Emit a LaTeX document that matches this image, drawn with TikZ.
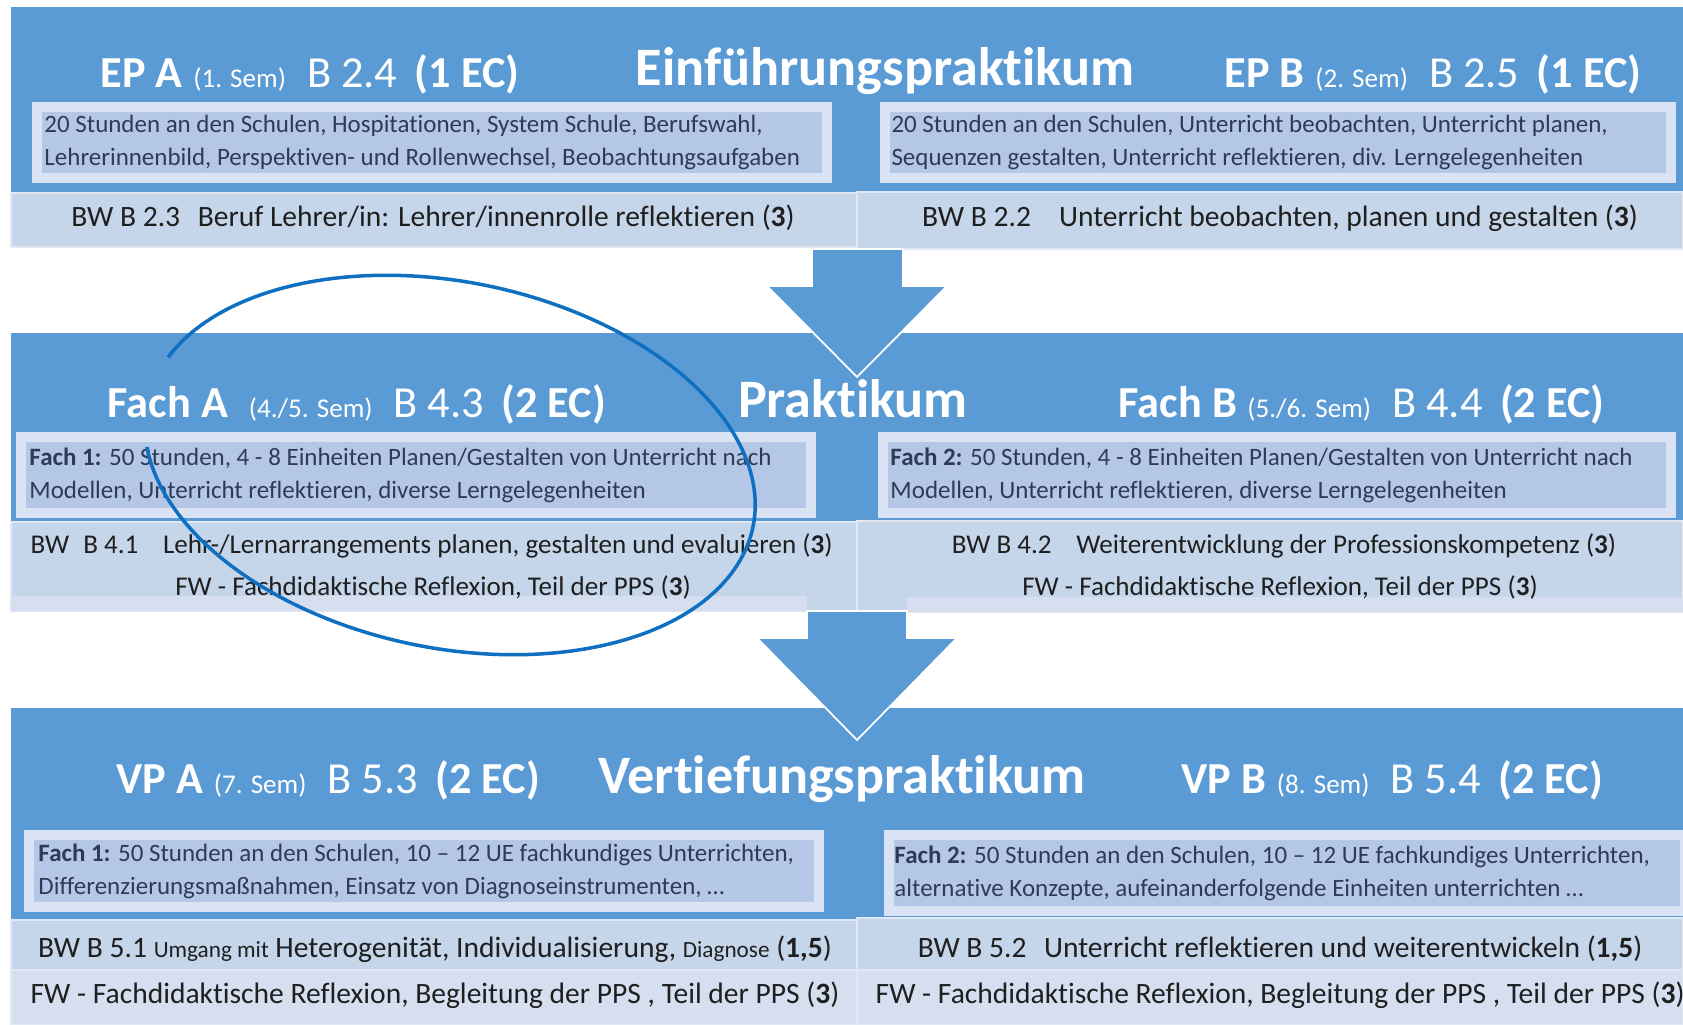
\documentclass[tikz,border=0pt]{standalone}
\usepackage{fontspec}
\setmainfont{Carlito}[Ligatures={TeX,NoCommon}]
\usepackage{tikz}
\usetikzlibrary{positioning}

\definecolor{bandblue}{HTML}{5B9BD5}
\definecolor{stripblue}{HTML}{C5D5EA}
\definecolor{stripfw}{HTML}{D5DFF0}
\definecolor{boxframe}{HTML}{DAE3F3}
\definecolor{boxfill}{HTML}{B4C7E7}
\definecolor{boxtext}{HTML}{2E3B56}
\definecolor{ringblue}{HTML}{0F6FC1}

\newcommand{\semtitle}[4]{\textbf{#1}\hspace{3pt}{\fontsize{7.7}{9}\selectfont(#2)}\hspace{6pt}#3\hspace{5pt}\textbf{(#4)}}
\newcommand{\pts}[1]{(\textbf{#1})}
\newcommand{\smallword}[1]{{\fontsize{6.6}{8}\selectfont #1}}

\begin{document}
\begin{tikzpicture}[
    x = .01cm,
    y = -.01cm,
    font = \fontsize{8.4}{10}\selectfont,
    band/.style = {fill=bandblue},
    bwrow/.style = {fill=stripblue, draw=white!45!stripblue, line width=.4pt},
    fwrow/.style = {fill=stripfw},
    fachbox/.style = {
      rectangle,
      draw=boxframe,
      fill=boxfill,
      line width=1mm,
      inner sep=0pt
    },
    fachtext/.style = {
      text=boxtext,
      font=\fontsize{7.1}{9.4}\selectfont,
      align=left,
      inner sep=0pt
    },
    bwtext/.style = {text=black!88, inner sep=0pt, anchor=base},
    phase/.style = {
      text=white,
      font=\bfseries\fontsize{15.4}{18}\selectfont,
      inner sep=0pt,
      anchor=base
    },
    semester/.style = {
      text=white,
      font=\fontsize{12.6}{15}\selectfont,
      inner sep=0pt,
      anchor=base west
    },
    downarrow/.style = {fill=bandblue, draw=white, line width=.5pt, line join=miter},
    ring/.style = {draw=ringblue, line width=1pt}
  ]
    \useasboundingbox (0,0) rectangle (1683,1025);

    % Einfuehrungspraktikum
    \fill[band] (11,7) rectangle (1683,193);
    \filldraw[bwrow] (11,193) rectangle (857,247);
    \filldraw[bwrow] (857,192) rectangle (1683,249);

    \node[semester] (epa) at (100,88) {\semtitle{EP A}{1. Sem}{B 2.4}{1 EC}};
    \node[phase] (ep) at (885,86) {Einführungspraktikum};
    \node[semester] (epb) at (1224,88) {\semtitle{EP B}{2. Sem}{B 2.5}{1 EC}};

    \node[fachbox, minimum width=7.9cm, minimum height=.71cm] (epabox) at (432,142.5) {};
    \node[fachtext, right=.12cm of epabox.west] (epatext)
      {20 Stunden an den Schulen, Hospitationen, System Schule, Berufswahl,\\
       Lehrerinnenbild, Perspektiven- und Rollenwechsel, Beobachtungsaufgaben};
    \node[fachbox, minimum width=7.86cm, minimum height=.71cm] (epbbox) at (1278,142.5) {};
    \node[fachtext, right=.11cm of epbbox.west] (epbtext)
      {20 Stunden an den Schulen, Unterricht beobachten, Unterricht planen,\\
       Sequenzen gestalten, Unterricht reflektieren, div. Lerngelegenheiten};

    \node[bwtext] (bw23) at (433,227) {BW B 2.3\hspace{5pt}Beruf Lehrer/in: Lehrer/innenrolle reflektieren \pts{3}};
    \node[bwtext] (bw22) at (1280,227) {BW B 2.2\hspace{8pt}Unterricht beobachten, planen und gestalten \pts{3}};

    % Praktikum
    \fill[band] (11,333) rectangle (1683,522);
    \filldraw[bwrow] (11,522) rectangle (857,611);
    \filldraw[bwrow] (857,521) rectangle (1683,612);
    \fill[fwrow] (11,596) rectangle (807,611);
    \fill[fwrow] (907,597) rectangle (1683,612);

    \node[semester] (facha) at (107,418) {\semtitle{Fach A\hspace{3pt}}{4./5. Sem}{B 4.3}{2 EC}};
    \node[phase] (pr) at (853,418) {Praktikum};
    \node[semester] (fachb) at (1118,418) {\semtitle{Fach B}{5./6. Sem}{B 4.4}{2 EC}};

    \node[fachbox, minimum width=7.9cm, minimum height=.76cm] (fachabox) at (416,475) {};
    \node[fachtext, right=.13cm of fachabox.west] (fachatext)
      {\textbf{Fach 1:} 50 Stunden, 4 - 8 Einheiten Planen/Gestalten von Unterricht nach\\
       Modellen, Unterricht reflektieren, diverse Lerngelegenheiten};
    \node[fachbox, minimum width=7.88cm, minimum height=.76cm] (fachbbox) at (1277,475) {};
    \node[fachtext, right=.12cm of fachbbox.west] (fachbtext)
      {\textbf{Fach 2:} 50 Stunden, 4 - 8 Einheiten Planen/Gestalten von Unterricht nach\\
       Modellen, Unterricht reflektieren, diverse Lerngelegenheiten};

    \node[bwtext, anchor=base west, font=\fontsize{7.7}{9}\selectfont] (bw41) at (30,553)
      {BW\hspace{4pt}B 4.1\hspace{7pt}Lehr-/Lernarrangements planen, gestalten und evaluieren \pts{3}};
    \node[bwtext, font=\fontsize{7.7}{9}\selectfont] (fwa) at (433,595) {FW - Fachdidaktische Reflexion, Teil der PPS \pts{3}};
    \node[bwtext, font=\fontsize{7.7}{9}\selectfont] (bw42) at (1284,553)
      {BW B 4.2\hspace{7pt}Weiterentwicklung der Professionskompetenz \pts{3}};
    \node[bwtext, font=\fontsize{7.7}{9}\selectfont] (fwb) at (1280,595) {FW - Fachdidaktische Reflexion, Teil der PPS \pts{3}};

    % Vertiefungspraktikum
    \fill[band] (11,708) rectangle (1683,920);
    \filldraw[bwrow] (11,920) rectangle (857,970);
    \filldraw[bwrow] (857,918) rectangle (1683,970);
    \filldraw[bwrow, fwrow] (11,970) rectangle (857,1025);
    \filldraw[bwrow, fwrow] (857,970) rectangle (1683,1025);

    \node[semester] (vpa) at (116,793) {\semtitle{VP A}{7. Sem}{B 5.3}{2 EC}};
    \node[phase] (vp) at (842,793) {Vertiefungspraktikum};
    \node[semester] (vpb) at (1181,793) {\semtitle{VP B}{8. Sem}{B 5.4}{2 EC}};

    \node[fachbox, minimum width=7.9cm, minimum height=.72cm] (vpabox) at (424,871) {};
    \node[fachtext, right=.14cm of vpabox.west] (vpatext)
      {\textbf{Fach 1:} 50 Stunden an den Schulen, 10 – 12 UE fachkundiges Unterrichten,\\
       Differenzierungsmaßnahmen, Einsatz von Diagnoseinstrumenten, …};
    \node[fachbox, minimum width=7.96cm, minimum height=.76cm] (vpbbox) at (1287,873) {};
    \node[fachtext, right=.1cm of vpbbox.west] (vpbtext)
      {\textbf{Fach 2:} 50 Stunden an den Schulen, 10 – 12 UE fachkundiges Unterrichten,\\
       alternative Konzepte, aufeinanderfolgende Einheiten unterrichten …};

    \node[bwtext] (bw51) at (435,957)
      {BW B 5.1 \smallword{Umgang mit} Heterogenität, Individualisierung, \smallword{Diagnose} \pts{1,5}};
    \node[bwtext] (fwc) at (435,1003) {FW - Fachdidaktische Reflexion, Begleitung der PPS , Teil der PPS \pts{3}};
    \node[bwtext] (bw52) at (1280,957) {BW B 5.2\hspace{5pt}Unterricht reflektieren und weiterentwickeln \pts{1,5}};
    \node[bwtext, anchor=base west] (fwd) at (875,1003) {FW - Fachdidaktische Reflexion, Begleitung der PPS , Teil der PPS \pts{3}};

    % block arrows between the phases
    \filldraw[downarrow] (812,249) -- (812,286) -- (767,286) -- (857,377)
      -- (947,286) -- (903,286) -- (903,249) -- cycle;
    \filldraw[downarrow] (807,611) -- (807,638) -- (757,638) -- (857,740)
      -- (957,638) -- (907,638) -- (907,611) -- cycle;

    % hand-drawn ring round Fach A
    \draw[ring, shift={(450,465)}, rotate=-11.5] (164.4:3.09cm and 1.83cm)
      arc[start angle=164.4, end angle=-166.5, x radius=3.09cm, y radius=1.83cm];

  \end{tikzpicture}
\end{document}
